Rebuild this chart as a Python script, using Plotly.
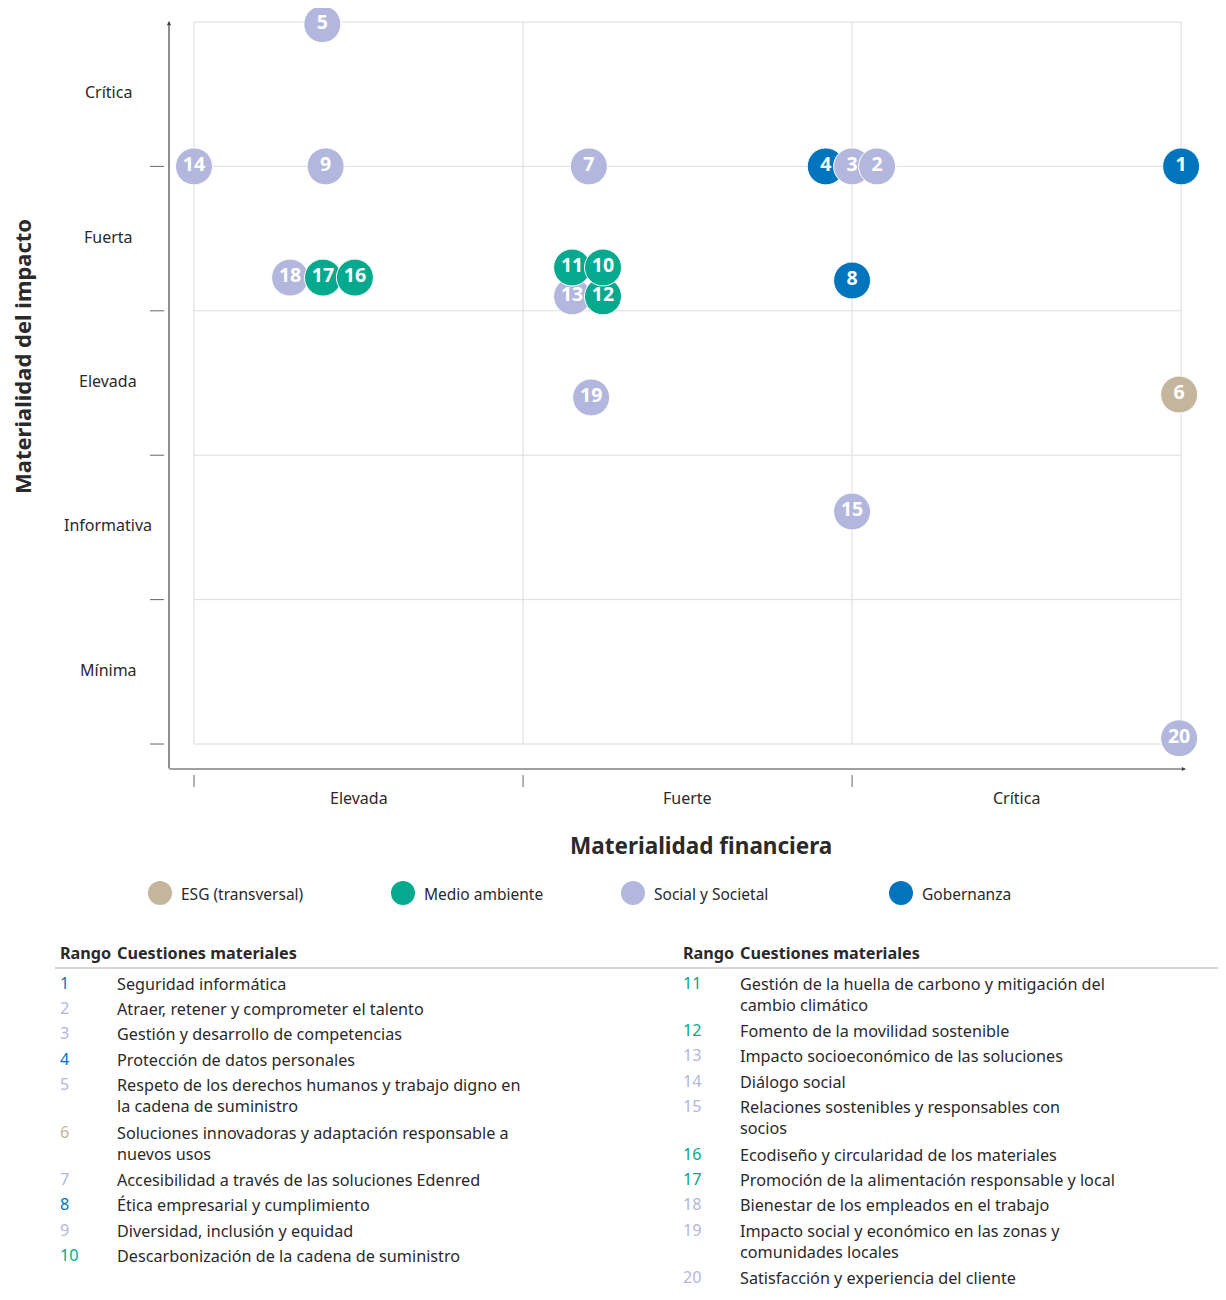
import plotly.graph_objects as go

# ---------------- data ----------------
ids = [str(i) for i in range(1, 21)]
fin_x = [3.0, 2.076, 2.0, 1.92, 0.39, 2.994, 1.20, 2.0, 0.40, 1.243,
         1.149, 1.243, 1.149, 0.0, 2.0, 0.489, 0.392, 0.292, 1.207, 2.994]
imp_y = [4.0, 4.0, 4.0, 4.0, 4.985, 2.42, 4.0, 3.21, 4.0, 3.30,
         3.30, 3.10, 3.10, 4.0, 1.61, 3.23, 3.23, 3.23, 2.40, 0.04]
cats = ["Gobernanza", "Social y Societal", "Social y Societal", "Gobernanza", "Social y Societal",
        "ESG (transversal)", "Social y Societal", "Gobernanza", "Social y Societal", "Medio ambiente",
        "Medio ambiente", "Medio ambiente", "Social y Societal", "Social y Societal", "Social y Societal",
        "Medio ambiente", "Medio ambiente", "Social y Societal", "Social y Societal", "Social y Societal"]
legend_cats = ["ESG (transversal)", "Medio ambiente", "Social y Societal", "Gobernanza"]
y_labels = ["Mínima", "Informativa", "Elevada", "Fuerta", "Crítica"]
x_labels = ["Elevada", "Fuerte", "Crítica"]
issues = [
    "Seguridad informática",
    "Atraer, retener y comprometer el talento",
    "Gestión y desarrollo de competencias",
    "Protección de datos personales",
    "Respeto de los derechos humanos y trabajo digno en<br>la cadena de suministro",
    "Soluciones innovadoras y adaptación responsable a<br>nuevos usos",
    "Accesibilidad a través de las soluciones Edenred",
    "Ética empresarial y cumplimiento",
    "Diversidad, inclusión y equidad",
    "Descarbonización de la cadena de suministro",
    "Gestión de la huella de carbono y mitigación del<br>cambio climático",
    "Fomento de la movilidad sostenible",
    "Impacto socioeconómico de las soluciones",
    "Diálogo social",
    "Relaciones sostenibles y responsables con<br>socios",
    "Ecodiseño y circularidad de los materiales",
    "Promoción de la alimentación responsable y local",
    "Bienestar de los empleados en el trabajo",
    "Impacto social y económico en las zonas y<br>comunidades locales",
    "Satisfacción y experiencia del cliente",
]

# ---------------- styles ----------------
COLORS = {
    "ESG (transversal)": "#C3B69C",
    "Medio ambiente": "#04A98E",
    "Social y Societal": "#B3B7DE",
    "Gobernanza": "#0075BE",
}
FONT = "Noto Sans"
TXT = "#2a2a2a"
GRID = "#DCDCDC"

OFF = 8                      # page body margin
W_FIG, H_FIG = 1226 - 2 * OFF, 1300 - 2 * OFF
# plot area in page pixels
PL, PT, PR, PB = 169, 10, 1190, 769
L, T = PL - OFF, PT - OFF
PW, PH = PR - PL, PB - PT
XR = [-0.076, 3.027]
YR = [-0.173, 5.083]


def px(xp):
    return (xp - PL) / PW


def py(yp):
    return (PB - yp) / PH


def dy(v):
    return (v - YR[0]) / (YR[1] - YR[0])


fig = go.Figure()

# bubbles, drawn in descending order so lower numbers sit on top like the reference
order = list(range(len(ids)))[::-1]
fig.add_trace(go.Scatter(
    x=[fin_x[i] for i in order],
    y=[imp_y[i] for i in order],
    text=[ids[i] for i in order],
    mode="markers+text",
    textposition="middle center",
    textfont=dict(family=FONT, size=19.5, color="white", weight="bold"),
    marker=dict(size=37, color=[COLORS[cats[i]] for i in order],
                line=dict(color="white", width=1), opacity=1),
    cliponaxis=False,
    showlegend=False,
    hoverinfo="text",
))

shapes = []
# grid
for gx in range(len(x_labels) + 1):
    shapes.append(dict(type="line", xref="x", yref="y", x0=gx, x1=gx, y0=0, y1=len(y_labels),
                       line=dict(color=GRID, width=1), layer="below"))
for gy in range(len(y_labels) + 1):
    shapes.append(dict(type="line", xref="x", yref="y", x0=0, x1=len(x_labels), y0=gy, y1=gy,
                       line=dict(color=GRID, width=1), layer="below"))
# left ticks
for gy in range(len(y_labels)):
    shapes.append(dict(type="line", xref="paper", yref="paper", x0=px(150), x1=px(164),
                       y0=dy(gy), y1=dy(gy), line=dict(color="#666", width=1)))
# bottom ticks
for gx in range(len(x_labels)):
    xp = (gx - XR[0]) / (XR[1] - XR[0])
    shapes.append(dict(type="line", xref="paper", yref="paper", x0=xp, x1=xp,
                       y0=py(775), y1=py(787), line=dict(color="#666", width=1)))
# table header rule
shapes.append(dict(type="line", xref="paper", yref="paper", x0=px(55), x1=px(1226),
                   y0=py(968), y1=py(968), line=dict(color="#C8C8C8", width=1.5)))
# legend circles
leg_x = [160, 403, 633, 901]
for c, lx in zip(legend_cats, leg_x):
    shapes.append(dict(type="circle", xref="paper", yref="paper", xsizemode="pixel", ysizemode="pixel",
                       xanchor=px(lx), yanchor=py(893), x0=-12, x1=12, y0=-12, y1=12,
                       fillcolor=COLORS[c], line=dict(width=0)))

ann = []
# axis arrows
ann.append(dict(xref="paper", yref="paper", x=px(169), y=py(21), axref="pixel", ayref="pixel",
                ax=0, ay=770 - 21, text="", showarrow=True, arrowhead=2, arrowsize=0.7,
                arrowwidth=1.2, arrowcolor="#444"))
ann.append(dict(xref="paper", yref="paper", x=px(1186), y=py(769), axref="pixel", ayref="pixel",
                ax=-(1186 - 168), ay=0, text="", showarrow=True, arrowhead=2, arrowsize=0.7,
                arrowwidth=1.2, arrowcolor="#444"))
# y category labels
for i, lab in enumerate(y_labels):
    ann.append(dict(xref="paper", yref="y", x=px(108), y=i + 0.5 + 0.014, text=lab, showarrow=False,
                    xanchor="center", yanchor="middle", font=dict(family=FONT, size=16, color=TXT)))
# x category labels
for i, lab in enumerate(x_labels):
    ann.append(dict(xref="x", yref="paper", x=i + 0.5, y=py(798), text=lab, showarrow=False,
                    xanchor="center", yanchor="middle", font=dict(family=FONT, size=16, color=TXT)))
# axis titles
ann.append(dict(xref="paper", yref="paper", x=px(22), y=py(357), text="<b>Materialidad del impacto</b>",
                textangle=-90, showarrow=False, xanchor="center", yanchor="middle",
                font=dict(family=FONT, size=22, color=TXT)))
ann.append(dict(xref="paper", yref="paper", x=px(701), y=py(845), text="<b>Materialidad financiera</b>",
                showarrow=False, xanchor="center", yanchor="middle",
                font=dict(family=FONT, size=22.5, color=TXT)))
# legend text
for c, lx in zip(legend_cats, leg_x):
    ann.append(dict(xref="paper", yref="paper", x=px(lx + 19), y=py(894), text=c, showarrow=False,
                    xanchor="left", yanchor="middle", font=dict(family=FONT, size=15.5, color=TXT)))

# table
col_num_x = [58, 681]
col_txt_x = [115, 738]
FS = 16.2
for ci in range(2):
    ann.append(dict(xref="paper", yref="paper", x=px(col_num_x[ci]), y=py(953), text="<b>Rango</b>",
                    showarrow=False, xanchor="left", yanchor="middle",
                    font=dict(family=FONT, size=FS, color=TXT)))
    ann.append(dict(xref="paper", yref="paper", x=px(col_txt_x[ci]), y=py(953),
                    text="<b>Cuestiones materiales</b>", showarrow=False, xanchor="left",
                    yanchor="middle", font=dict(family=FONT, size=FS, color=TXT)))
    yrow = 982.5
    for k in range(10):
        i = ci * 10 + k
        nlines = issues[i].count("<br>") + 1
        ann.append(dict(xref="paper", yref="paper", x=px(col_num_x[ci]), y=py(yrow), text=ids[i],
                        showarrow=False, xanchor="left", yanchor="middle",
                        font=dict(family=FONT, size=FS, color=COLORS[cats[i]])))
        ann.append(dict(xref="paper", yref="paper", x=px(col_txt_x[ci]), y=py(yrow - 12),
                        text=issues[i], showarrow=False, xanchor="left", yanchor="top", align="left",
                        font=dict(family=FONT, size=FS, color=TXT)))
        yrow += 25.4 + 22 * (nlines - 1)

fig.update_layout(
    width=W_FIG, height=H_FIG,
    margin=dict(l=L, r=W_FIG - (PR - OFF), t=T, b=H_FIG - (PB - OFF)),
    plot_bgcolor="white", paper_bgcolor="white",
    xaxis=dict(range=XR, showgrid=False, zeroline=False, showticklabels=False, ticks="",
               showline=False, fixedrange=True),
    yaxis=dict(range=YR, showgrid=False, zeroline=False, showticklabels=False, ticks="",
               showline=False, fixedrange=True),
    shapes=shapes, annotations=ann, showlegend=False,
    font=dict(family=FONT, color=TXT),
)
fig.write_html("out.html")
